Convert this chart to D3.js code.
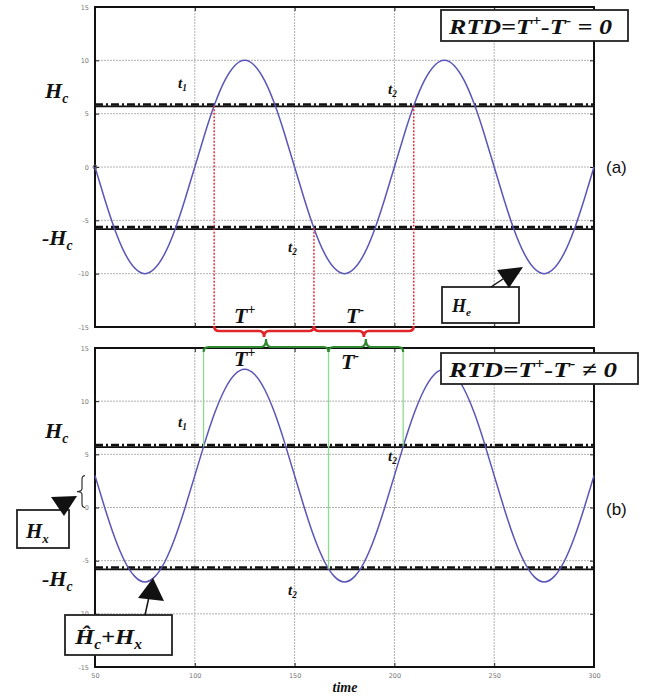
<!DOCTYPE html>
<html>
<head>
<meta charset="utf-8">
<script src="https://cdn.jsdelivr.net/npm/d3@7"></script>
<style>
  body { margin: 0; background: #fff; }
  svg { display: block; }
</style>
</head>
<body>
<svg id="chart" width="649" height="698"></svg>
<script>
// ---- data -------------------------------------------------------------
const timeTicks = [50, 100, 150, 200, 250, 300];
const timeTickLabels = ["50", "100", "150", "200", "250", "300"];
const fieldTicks = [-15, -10, -5, 0, 5, 10, 15];
const fieldTickLabels = ["-15", "-10", "-5", "0", "5", "10", "15"];
const gridTimes = [100, 150, 200, 250];
const gridFields = [-10, -5, 0, 5, 10];

const sampleTimes = [50, 55, 60, 65, 70, 75, 80, 85, 90, 95, 100, 105, 110, 115, 120, 125,
  130, 135, 140, 145, 150, 155, 160, 165, 170, 175, 180, 185, 190, 195, 200, 205, 210,
  215, 220, 225, 230, 235, 240, 245, 250, 255, 260, 265, 270, 275, 280, 285, 290, 295, 300];

// (a) excitation field without offset
const fieldA = [0, -3.1, -5.9, -8.1, -9.5, -10, -9.5, -8.1, -5.9, -3.1, 0, 3.1, 5.9, 8.1, 9.5, 10,
  9.5, 8.1, 5.9, 3.1, 0, -3.1, -5.9, -8.1, -9.5, -10, -9.5, -8.1, -5.9, -3.1, 0, 3.1, 5.9,
  8.1, 9.5, 10, 9.5, 8.1, 5.9, 3.1, 0, -3.1, -5.9, -8.1, -9.5, -10, -9.5, -8.1, -5.9, -3.1, 0];

// (b) excitation field shifted by the external field Hx
const fieldB = [3, -0.1, -2.9, -5.1, -6.5, -7, -6.5, -5.1, -2.9, -0.1, 3, 6.1, 8.9, 11.1, 12.5, 13,
  12.5, 11.1, 8.9, 6.1, 3, -0.1, -2.9, -5.1, -6.5, -7, -6.5, -5.1, -2.9, -0.1, 3, 6.1, 8.9,
  11.1, 12.5, 13, 12.5, 11.1, 8.9, 6.1, 3, -0.1, -2.9, -5.1, -6.5, -7, -6.5, -5.1, -2.9, -0.1, 3];

const coercive = 5.75;        // Hc
const offsetHx = 3;           // Hx
// switching instants: up through Hc, down through -Hc, up through Hc
const crossingsA = [109.7, 159.7, 209.7];
const crossingsB = [104.4, 167.0, 204.4];

// ---- layout -----------------------------------------------------------
const svg = d3.select("#chart");
const x = d3.scaleLinear().domain([50, 300]).range([95, 594]);
const yA = d3.scaleLinear().domain([-15, 15]).range([327, 7]);
const yB = d3.scaleLinear().domain([-15, 15]).range([667, 348]);

const serif = "'Liberation Serif', 'Times New Roman', serif";
const blue = "#5a55b8";
const red = "#e0262b";
const green = "#2f8a2f";
const lightGreen = "#8fdc8f";

function drawPanel(y, values, showTimeLabels) {
  const g = svg.append("g");
  // grid
  g.selectAll(".gx").data(gridTimes).join("line")
    .attr("x1", d => x(d)).attr("x2", d => x(d))
    .attr("y1", y(15)).attr("y2", y(-15))
    .attr("stroke", "#b0b0b0").attr("stroke-width", 1).attr("stroke-dasharray", "2,1");
  g.selectAll(".gy").data(gridFields).join("line")
    .attr("x1", x(50)).attr("x2", x(300))
    .attr("y1", d => y(d)).attr("y2", d => y(d))
    .attr("stroke", "#b0b0b0").attr("stroke-width", 1).attr("stroke-dasharray", "2,1");

  // axes (ticks pointing inward)
  const left = d3.axisLeft(y).tickValues(fieldTicks).tickSize(-4)
    .tickFormat((d, i) => fieldTickLabels[i]).tickPadding(6);
  const right = d3.axisRight(y).tickValues(fieldTicks).tickSize(-4).tickFormat("");
  const bottom = d3.axisBottom(x).tickValues(timeTicks).tickSize(-4)
    .tickFormat((d, i) => showTimeLabels ? timeTickLabels[i] : "").tickPadding(6);
  const top = d3.axisTop(x).tickValues(timeTicks).tickSize(-4).tickFormat("");

  const styleAxis = sel => {
    sel.select(".domain").remove();
    sel.selectAll("line").attr("stroke", "#222").attr("stroke-width", 1);
    sel.selectAll("text").attr("fill", "#777").attr("font-size", 6.5)
      .attr("font-family", "'DejaVu Sans', sans-serif");
  };
  g.append("g").attr("transform", `translate(${x(50)},0)`).call(left).call(styleAxis);
  g.append("g").attr("transform", `translate(${x(300)},0)`).call(right).call(styleAxis);
  g.append("g").attr("transform", `translate(0,${y(-15)})`).call(bottom).call(styleAxis);
  g.append("g").attr("transform", `translate(0,${y(15)})`).call(top).call(styleAxis);

  // frame
  g.append("rect")
    .attr("x", x(50)).attr("y", y(15))
    .attr("width", x(300) - x(50)).attr("height", y(-15) - y(15))
    .attr("fill", "none").attr("stroke", "#111").attr("stroke-width", 2);

  // threshold lines +Hc / -Hc
  [coercive, -coercive].forEach(h => {
    g.append("line")
      .attr("x1", x(50)).attr("x2", x(300))
      .attr("y1", y(h) + 0.8).attr("y2", y(h) + 0.8)
      .attr("stroke", "#111").attr("stroke-width", 1.8);
    g.append("line")
      .attr("x1", x(50)).attr("x2", x(300))
      .attr("y1", y(h) - 1.2).attr("y2", y(h) - 1.2)
      .attr("stroke", "#111").attr("stroke-width", 2.6)
      .attr("stroke-dasharray", "8,3,2,3");
  });

  // signal
  const line = d3.line()
    .x((d, i) => x(sampleTimes[i]))
    .y(d => y(d))
    .curve(d3.curveNatural);
  g.append("path").datum(values)
    .attr("d", line)
    .attr("fill", "none").attr("stroke", blue).attr("stroke-width", 1.5);
  return g;
}

const gA = drawPanel(yA, fieldA, false);
const gB = drawPanel(yB, fieldB, true);

// small start marker on (a)
gA.append("circle").attr("cx", x(sampleTimes[0])).attr("cy", yA(fieldA[0]))
  .attr("r", 2).attr("fill", "none").attr("stroke", "#555").attr("stroke-width", 1);

// ---- switching markers ------------------------------------------------
const levelsAt = [coercive, -coercive, coercive];

// (a) red dotted drops to the bottom of the panel
svg.selectAll(".dropA").data(crossingsA).join("line")
  .attr("x1", d => x(d)).attr("x2", d => x(d))
  .attr("y1", (d, i) => yA(levelsAt[i])).attr("y2", yA(-15))
  .attr("stroke", red).attr("stroke-width", 1.4).attr("stroke-dasharray", "2,1.5");

// (b) thin green lines up to the top of the panel
svg.selectAll(".dropB").data(crossingsB).join("line")
  .attr("x1", d => x(d)).attr("x2", d => x(d))
  .attr("y1", (d, i) => yB(levelsAt[i])).attr("y2", yB(15) + 4)
  .attr("stroke", lightGreen).attr("stroke-width", 1.3);

function hBrace(x1, x2, y, dir, depth) {
  const m = (x1 + x2) / 2, r = 5;
  return `M${x1},${y - dir * r} Q${x1},${y} ${x1 + r},${y} L${m - r},${y} ` +
    `Q${m},${y} ${m},${y + dir * depth} Q${m},${y} ${m + r},${y} ` +
    `L${x2 - r},${y} Q${x2},${y} ${x2},${y - dir * r}`;
}

// red braces under (a)
[[0, 1], [1, 2]].forEach(([a, b]) => {
  svg.append("path")
    .attr("d", hBrace(x(crossingsA[a]), x(crossingsA[b]), yA(-15) + 4, 1, 6))
    .attr("fill", "none").attr("stroke", red).attr("stroke-width", 2.6);
});
// green braces over (b)
[[0, 1], [1, 2]].forEach(([a, b]) => {
  svg.append("path")
    .attr("d", hBrace(x(crossingsB[a]), x(crossingsB[b]), yB(15) - 1, -1, 8))
    .attr("fill", "none").attr("stroke", green).attr("stroke-width", 2.2);
});

// ---- text helpers -----------------------------------------------------
function label(px, py, parts, size, anchor, fitWidth) {
  const t = svg.append("text")
    .attr("x", px).attr("y", py)
    .attr("font-family", serif).attr("font-weight", "bold").attr("font-style", "italic")
    .attr("font-size", size).attr("fill", "#111")
    .attr("text-anchor", anchor || "start");
  if (fitWidth) t.attr("textLength", fitWidth).attr("lengthAdjust", "spacingAndGlyphs");
  parts.forEach(p => {
    const s = t.append("tspan").text(p.t);
    if (p.sub) s.attr("font-size", size * 0.62).attr("dy", size * 0.22);
    if (p.sup) s.attr("font-size", size * 0.62).attr("dy", -size * 0.42);
    if (p.back) s.attr("dy", p.back);
  });
  return t;
}
const Hc = [{ t: "H" }, { t: "c", sub: true }];
const mHc = [{ t: "-H" }, { t: "c", sub: true }];

// threshold names
label(45, 98, Hc, 22);
label(42, 245, mHc, 22);
label(45, 438, Hc, 22);
label(42, 586, mHc, 22);

// switching instant names
const tLab = (px, py, n) => label(px, py, [{ t: "t" }, { t: n, sub: true }], 15);
tLab(178, 88, "1");
tLab(388, 94, "2");
tLab(288, 252, "2");
tLab(178, 427, "1");
tLab(388, 461, "2");
tLab(288, 595, "2");

// period names
label(234, 323, [{ t: "T" }, { t: "+", sup: true }], 22);
label(346, 323, [{ t: "T" }, { t: "-", sup: true }], 22);
label(234, 366, [{ t: "T" }, { t: "+", sup: true }], 22);
label(341, 369, [{ t: "T" }, { t: "-", sup: true }], 22);

// ---- boxed annotations -------------------------------------------------
function box(bx, by, bw, bh) {
  svg.append("rect").attr("x", bx).attr("y", by).attr("width", bw).attr("height", bh)
    .attr("fill", "#fff").attr("stroke", "#222").attr("stroke-width", 1.8);
}
function tri(points) {
  svg.append("path").attr("d", "M" + points.map(p => p.join(",")).join("L") + "Z")
    .attr("fill", "#111");
}

box(441, 10, 187, 31);
label(449, 34, [{ t: "RTD=T" }, { t: "+", sup: true }, { t: "-T", back: 9.2 },
  { t: "-", sup: true }, { t: " = 0", back: 9.2 }], 22, "start", 163);

box(441, 353, 197, 31);
label(449, 377, [{ t: "RTD=T" }, { t: "+", sup: true }, { t: "-T", back: 9.2 },
  { t: "-", sup: true }, { t: " ≠ 0", back: 9.2 }], 22, "start", 168);

// He box in (a)
box(442, 287, 77, 36);
svg.append("line").attr("x1", 491).attr("y1", 287).attr("x2", 503).attr("y2", 279)
  .attr("stroke", "#111").attr("stroke-width", 1.5);
tri([[497, 270], [523, 267], [509, 288]]);
label(452, 312, [{ t: "H" }, { t: "e", sub: true }], 18);

// Hx box in (b)
svg.append("path")
  .attr("d", (() => {
    const bx = 82, y1 = yB(offsetHx), y2 = yB(0), m = (y1 + y2) / 2;
    return `M${bx + 3},${y1} Q${bx},${y1} ${bx},${y1 + 4} L${bx},${m - 3} Q${bx},${m} ${bx - 5},${m} ` +
      `Q${bx},${m} ${bx},${m + 3} L${bx},${y2 - 4} Q${bx},${y2} ${bx + 3},${y2}`;
  })())
  .attr("fill", "none").attr("stroke", "#333").attr("stroke-width", 1.2);
box(17, 510, 52, 38);
tri([[51, 497], [77, 496], [64, 516]]);
label(26, 538, [{ t: "H" }, { t: "x", sub: true }], 21);

// Hc + Hx box in (b)
box(65, 615, 107, 40);
svg.append("line").attr("x1", 145).attr("y1", 615).attr("x2", 149).attr("y2", 597)
  .attr("stroke", "#111").attr("stroke-width", 1.5);
tri([[138, 598], [164, 601], [153, 578]]);
label(75, 644, [{ t: "Ĥ" }, { t: "c", sub: true }, { t: "+H", back: -4.8 }, { t: "x", sub: true }], 22, "start", 67);

// axis title
label(345, 692, [{ t: "time" }], 14, "middle");

// panel tags
svg.append("text").attr("x", 606).attr("y", 173).text("(a)")
  .attr("font-family", "'Liberation Sans', Arial, sans-serif").attr("font-size", 17).attr("fill", "#111");
svg.append("text").attr("x", 606).attr("y", 515).text("(b)")
  .attr("font-family", "'Liberation Sans', Arial, sans-serif").attr("font-size", 17).attr("fill", "#111");
</script>
</body>
</html>
